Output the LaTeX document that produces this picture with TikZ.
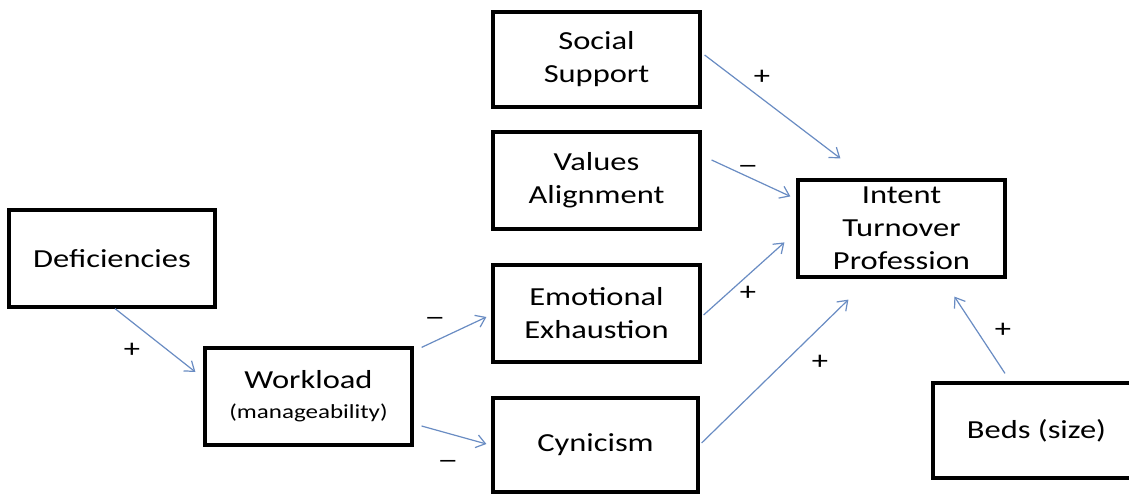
\documentclass[tikz,border=0pt]{standalone}
\usepackage{fontspec}
\setmainfont{Carlito}[FakeStretch=1.25]
\usetikzlibrary{arrows.meta}
\definecolor{arrowblue}{RGB}{105,140,195}
\newcommand{\negsign}{\scalebox{1.3}[1]{–}}
\tikzset{
  box/.style={draw=black, line width=3.2pt, inner sep=0pt, align=center,
    minimum width=207pt, minimum height=97pt,
    font=\fontsize{26}{33}\selectfont},
  link/.style={draw=arrowblue, line width=1.2pt,
    -{Straight Barb[length=9pt,width=13pt,line width=1.2pt]}},
  sign/.style={inner sep=0pt, font=\fontsize{26}{33}\selectfont},
}
\begin{document}
\begin{tikzpicture}[x=1pt,y=-1pt]
\clip (0,0) rectangle (1129,494);
\fill[white] (0,0) rectangle (1129,494);

\node[box] (social) at (596.5,59.5) [minimum height=95pt] {Social\\Support};
\node[box] (values) at (596.5,180.5) {Values\\Alignment};
\node[box] (emot) at (596.5,313.5) {Emotional\\Exhaustion};
\node[box] (cyn) at (595.5,445) [minimum width=205pt, minimum height=94pt] {Cynicism};
\node[box] (intent) at (901.5,228.5) {Intent\\Turnover\\Profession};
\node[box] (def) at (112,258.5) [minimum width=206pt] {Deficiencies};
\node[box] (wl) at (308.5,396.5) {Workload\\[-3pt]{\fontsize{20}{24}\selectfont (manageability)}};
\node[box] (beds) at (1036.5,430.5) [minimum height=95pt] {Beds (size)};

\draw[link] ([shift={(3,0)}]def.south) -- ([shift={(-8,-24.5)}]wl.west);
\draw[link] ([shift={(8,1)}]wl.north east) -- ([shift={(-5,3.5)}]emot.west);
\draw[link] ([shift={(8,29.5)}]wl.east) -- ([shift={(-5,-1)}]cyn.west);
\draw[link] ([shift={(3,-4.5)}]social.east) -- ([shift={(44,-20)}]intent.north west);
\draw[link] ([shift={(10,-20.5)}]values.east) -- ([shift={(-6,18)}]intent.north west);
\draw[link] ([shift={(2,1.5)}]emot.east) -- ([shift={(-12,64)}]intent.north west);
\draw[link] ([shift={(2,-2)}]cyn.east) -- ([shift={(52,21)}]intent.south west);
\draw[link] ([shift={(-31.5,-8)}]beds.north) -- ([shift={(158,18)}]intent.south west);

\node[sign] (s1) at (132,350) {+};
\node[sign] (s2) at (435,321) {\negsign};
\node[sign] (s3) at (448,464) {\negsign};
\node[sign] (s4) at (762,77) {+};
\node[sign] (s5) at (748,169) {\negsign};
\node[sign] (s6) at (748,293) {+};
\node[sign] (s7) at (820,362) {+};
\node[sign] (s8) at (1003,330) {+};
\end{tikzpicture}
\end{document}
